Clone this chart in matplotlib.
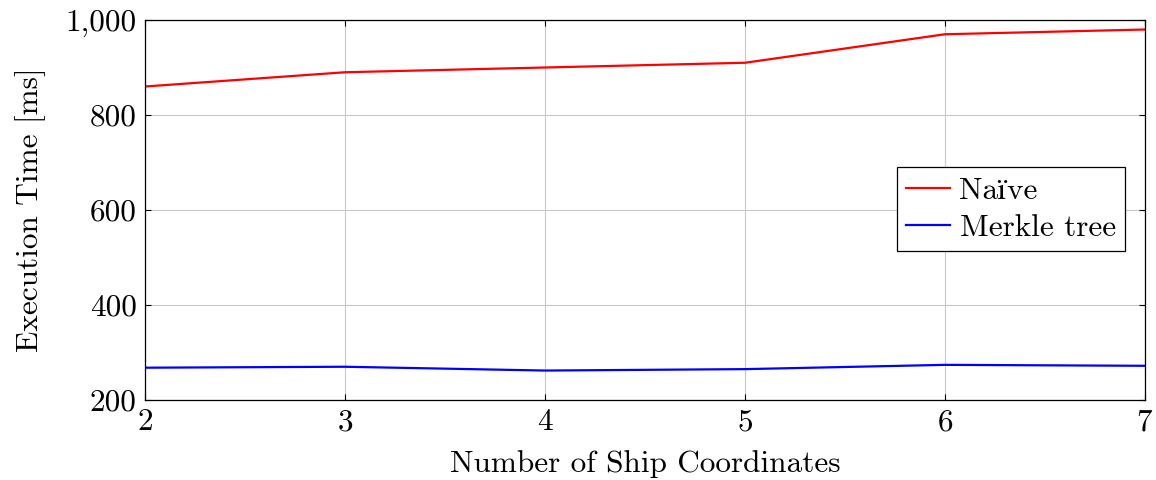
import matplotlib.pyplot as plt
import matplotlib.ticker as mticker

plt.rcParams.update({
    "font.family": ["cmr10", "STIXGeneral", "DejaVu Serif"],
    "mathtext.fontset": "cm",
    "axes.formatter.use_mathtext": True,
    "font.size": 22.5,
})

# Data
coords = [2, 3, 4, 5, 6, 7]
naive_ms = [860, 890, 900, 910, 970, 980]
merkle_ms = [268, 270, 262, 265, 274, 272]

fig = plt.figure(figsize=(11.56, 4.8), dpi=100)
ax = fig.add_axes([145/1156, 80/480, 1000/1156, 380/480])

ax.plot(coords, naive_ms, color="red", linewidth=1.6, label="Naïve")
ax.plot(coords, merkle_ms, color="blue", linewidth=1.6, label="Merkle tree")

ax.set_xlim(2, 7)
ax.set_ylim(200, 1000)
ax.set_xticks(coords)
ax.set_yticks([200, 400, 600, 800, 1000])
ax.yaxis.set_major_formatter(mticker.FuncFormatter(lambda v, p: f"{int(v):,}"))

ax.grid(True, color="#c8c8c8", linewidth=0.8)
ax.tick_params(direction="in", top=True, right=True, length=4, width=0.8, labelsize=22.5, pad=6)
for part in ["bottom", "left", "right", "top"]:
    ax.spines[part].set_linewidth(0.9)

ax.set_xlabel("Number of Ship Coordinates", fontsize=22.5, labelpad=10)
ax.set_ylabel("Execution Time [ms]", fontsize=22.5, labelpad=14)

leg = ax.legend(loc="center right", bbox_to_anchor=(0.98, 0.502), fancybox=False,
                edgecolor="black", framealpha=1, fontsize=22.5, handlelength=1.4,
                borderpad=0.3, labelspacing=0.3, handletextpad=0.3,
                borderaxespad=0.0)
leg.get_frame().set_linewidth(0.9)

fig.savefig("out.png", dpi=100)
